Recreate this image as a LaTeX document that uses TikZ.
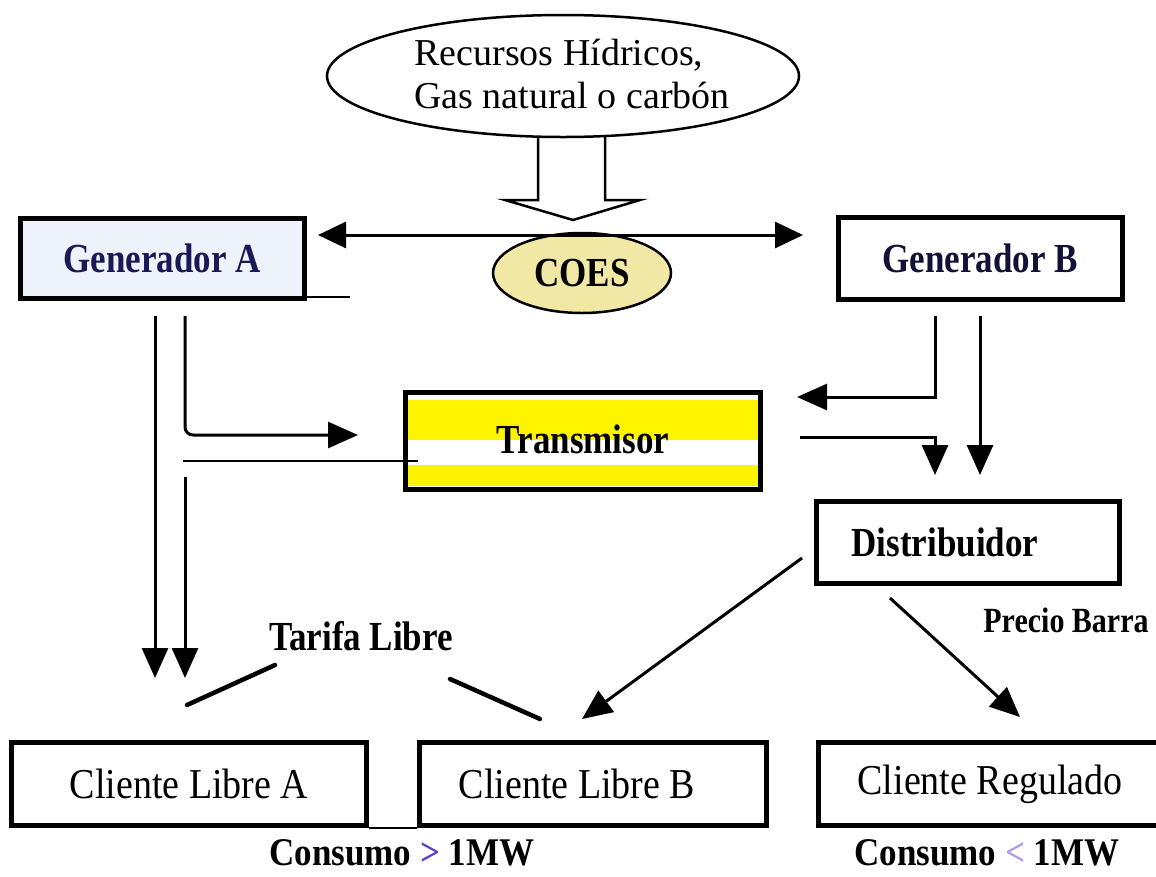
\documentclass[tikz,border=0pt]{standalone}
\usepackage{fontspec}
\usepackage{graphicx}
\setmainfont{Liberation Serif}
\usetikzlibrary{arrows.meta,shapes.geometric}
\definecolor{navy}{RGB}{25,25,85}
\definecolor{navyblk}{RGB}{18,18,55}
\definecolor{coesfill}{RGB}{242,232,165}
\definecolor{genfill}{RGB}{238,242,250}
\definecolor{stripe}{RGB}{255,244,0}
\definecolor{gtcol}{RGB}{95,60,210}
\definecolor{ltcol}{RGB}{175,155,235}
% labels are set a little taller than the font's natural shape
\newcommand{\tallbox}[2][1.18]{\scalebox{1}[#1]{#2}}
\tikzset{
  box/.style={draw=black, line width=5pt, rectangle, inner sep=0pt},
  flow/.style={line width=3pt, -{Triangle[length=30pt,width=26pt]}},
  biflow/.style={line width=3pt, {Triangle[length=28pt,width=26pt]}-{Triangle[length=28pt,width=26pt]}},
  thinline/.style={line width=2.5pt},
  tarifa/.style={line width=4.5pt, line cap=round},
  boldlbl/.style={font=\fontsize{35}{40}\selectfont\bfseries, inner sep=0pt},
  reglbl/.style={font=\fontsize{38}{44}\selectfont, inner sep=0pt},
}
\begin{document}
\begin{tikzpicture}[x=1pt,y=-1pt]
\clip (0,0) rectangle (1156,876);
\fill[white] (0,0) rectangle (1156,876);

% resources and the hollow arrow below them
\draw[line width=2.5pt, fill=white, line join=miter]
  (538,130) -- (538,200) -- (505,200) -- (573,220) -- (640,200) -- (605,200) -- (605,130);
\node[ellipse, draw, line width=2.5pt, fill=white, minimum width=472pt, minimum height=122pt] (res) at (563,76) {};
\node[reglbl, align=left, font=\fontsize{38}{43}\selectfont] (restxt) at (572,74) {Recursos Hídricos,\\Gas natural o carbón};

% generators and COES
\node[box, fill=genfill, minimum width=284pt, minimum height=80pt, boldlbl, text=navy] (genA) at (162,258) {\tallbox{Generador A}};
\node[box, fill=white, minimum width=284pt, minimum height=82pt, boldlbl, text=navyblk] (genB) at (980,258) {\tallbox{Generador B}};
\node[ellipse, draw, line width=2.5pt, fill=coesfill, minimum width=178pt, minimum height=80pt, boldlbl] (coes) at (582,273) {\tallbox{COES}};
\coordinate (hl) at (318,235);
\coordinate (hr) at (803,235);
\draw[biflow] (hl) -- (hr);
\coordinate (genAx) at (305,297);
\coordinate (genAxe) at (350,297);
\draw[line width=2pt] (genAx) -- (genAxe);

% transmitter
\fill[stripe] (408,400) rectangle (758,440);
\fill[stripe] (408,465) rectangle (758,486);
\node[box, minimum width=355pt, minimum height=97pt, boldlbl] (trans) at (583,441) {\raisebox{4pt}{\tallbox{Transmisor}}};

% distributor
\node[box, fill=white, minimum width=303pt, minimum height=82pt, boldlbl] (dist) at (968,542) {\tallbox{Distribuidor}\hspace*{46pt}};

% customers
\node[box, fill=white, minimum width=355pt, minimum height=83pt, reglbl] (cliA) at (189,784) {\tallbox[1.12]{Cliente Libre A}};
\node[box, fill=white, minimum width=347pt, minimum height=83pt, reglbl] (cliB) at (593,784) {\tallbox[1.12]{Cliente Libre B}\hspace*{32pt}};
\node[box, fill=white, minimum width=364pt, minimum height=83pt, reglbl] (cliR) at (1000,784) {\tallbox[1.12]{Cliente Regulado}\hspace*{20pt}};
\draw[thinline] (cliA.south east) -- (cliB.south west);

% flows from Generador A
\coordinate (a1s) at (155,316);
\coordinate (a1e) at (155,678);
\coordinate (a2s) at (185,316);
\coordinate (a2c) at (185,435);
\coordinate (a2e) at (358,435);
\coordinate (a3s) at (185,477);
\coordinate (a3e) at (185,678);
\coordinate (tls) at (183,461);
\coordinate (tle) at (418,461);
\draw[flow] (a1s) -- (a1e);
\draw[flow, rounded corners=8pt] (a2s) -- (a2c) -- (a2e);
\draw[flow] (a3s) -- (a3e);
\draw[thinline] (tls) -- (tle);

% flows from Generador B
\coordinate (b1s) at (935,316);
\coordinate (b1c) at (935,397);
\coordinate (b1e) at (797,397);
\coordinate (b2s) at (800,437);
\coordinate (b2c) at (935,437);
\coordinate (b2e) at (935,475);
\coordinate (b3s) at (980,316);
\coordinate (b3e) at (980,475);
\draw[flow] (b1s) -- (b1c) -- (b1e);
\draw[flow] (b2s) -- (b2c) -- (b2e);
\draw[flow] (b3s) -- (b3e);

% flows from the distributor
\coordinate (d1s) at (802,558);
\coordinate (d1e) at (582,719);
\coordinate (d2s) at (890,598);
\coordinate (d2e) at (1020,717);
\draw[flow] (d1s) -- (d1e);
\draw[flow] (d2s) -- (d2e);

% price labels
\node[boldlbl] (tarifa) at (361,636) {\tallbox{Tarifa Libre}};
\coordinate (t1s) at (187,705);
\coordinate (t1e) at (275,665);
\coordinate (t2s) at (450,679);
\coordinate (t2e) at (540,719);
\draw[tarifa] (t1s) -- (t1e);
\draw[tarifa] (t2s) -- (t2e);
\node[boldlbl, font=\fontsize{30}{34}\selectfont\bfseries] (precio) at (1066,620) {\tallbox{Precio Barra}};
\node[boldlbl] (consA) at (402,853) {\tallbox[1.12]{Consumo \textcolor{gtcol}{>} 1MW}};
\node[boldlbl] (consB) at (987,853) {\tallbox[1.12]{Consumo \textcolor{ltcol}{<} 1MW}};
\end{tikzpicture}
\end{document}
